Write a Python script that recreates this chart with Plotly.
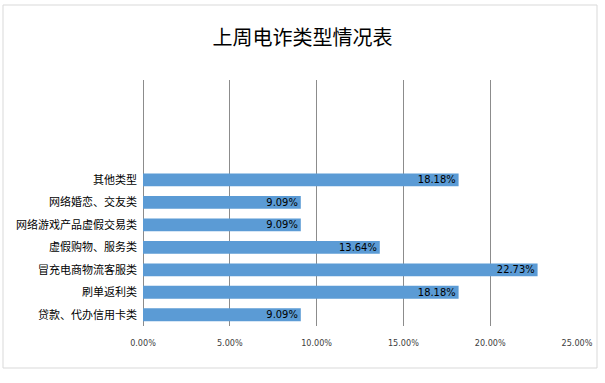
import plotly.graph_objects as go

categories = ["贷款、代办信用卡类", "刷单返利类", "冒充电商物流客服类", "虚假购物、服务类",
              "网络游戏产品虚假交易类", "网络婚恋、交友类", "其他类型"]
values = [0.0909, 0.1818, 0.2273, 0.1364, 0.0909, 0.0909, 0.1818]
labels = ["9.09%", "18.18%", "22.73%", "13.64%", "9.09%", "9.09%", "18.18%"]
x_ticks = [0, 0.05, 0.10, 0.15, 0.20, 0.25]
x_tick_text = ["0.00%", "5.00%", "10.00%", "15.00%", "20.00%", "25.00%"]
title = "上周电诈类型情况表"

fig = go.Figure(go.Bar(
    y=list(range(len(categories))), x=values, orientation="h",
    marker=dict(color="#5B9BD5", line=dict(width=0)),
    width=0.57,
    text=labels, textposition="inside", insidetextanchor="end",
    constraintext="none",
    textfont=dict(family="DejaVu Sans Condensed", size=11, color="black"),
    cliponaxis=False,
))

L, R, T, B = 143, 28, 80, 57
W, H = 605, 383
pw, ph = W - L - R, H - T - B

def px(x):
    return (x - L) / pw

def py(y):
    return (H - B - y) / ph

fig.update_layout(
    width=W, height=H,
    margin=dict(l=L, r=R, t=T, b=B, autoexpand=False),
    paper_bgcolor="white", plot_bgcolor="white",
    showlegend=False,
    uniformtext=dict(mode=False),
    title=dict(text=title, x=0.5, xanchor="center", y=1 - 38 / H, yanchor="middle",
               font=dict(family="Noto Sans CJK SC", size=20, color="black")),
    xaxis=dict(range=[0, 0.25], tickvals=x_ticks, ticktext=x_tick_text,
               showgrid=True, gridcolor="#8C8C8C", gridwidth=1,
               zeroline=True, zerolinecolor="#8C8C8C", zerolinewidth=1,
               showline=False, ticks="", ticklabelstandoff=10, automargin=False,
               tickfont=dict(family="DejaVu Sans Condensed", size=9, color="#404040")),
    yaxis=dict(range=[-0.5, 10.44], tickvals=list(range(len(categories))), ticktext=categories,
               showgrid=False, zeroline=False, showline=False, ticks="",
               ticklabelstandoff=5, automargin=False,
               tickfont=dict(family="Noto Sans CJK SC", size=11, color="black")),
    shapes=[dict(type="rect", xref="paper", yref="paper",
                 x0=px(3), x1=px(597), y0=py(368), y1=py(5),
                 line=dict(color="#D9D9D9", width=1), fillcolor="rgba(0,0,0,0)", layer="below")],
)

fig.write_html("out.html", config={"displayModeBar": False},
               post_script="document.body.style.margin='0';")
